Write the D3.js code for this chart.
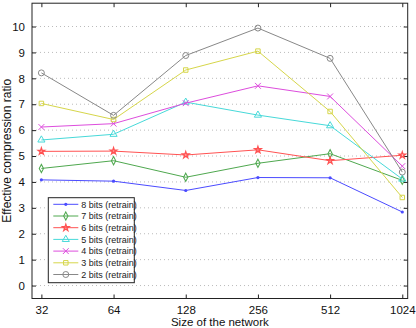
<!DOCTYPE html>
<html>
<head>
<meta charset="utf-8">
<script src="https://cdn.jsdelivr.net/npm/d3@7"></script>
<style>
  body { margin: 0; background: #fff; }
  svg { font-family: "Liberation Sans", Arial, sans-serif; }
</style>
</head>
<body>
<svg id="chart" width="416" height="328"></svg>
<script>
var sizes = [32, 64, 128, 256, 512, 1024];
var bits8 = [4.08, 4.03, 3.67, 4.17, 4.16, 2.84];
var bits7 = [4.52, 4.82, 4.18, 4.72, 5.09, 4.06];
var bits6 = [5.18, 5.19, 5.04, 5.24, 4.82, 5.03];
var bits5 = [5.62, 5.84, 7.08, 6.58, 6.17, 4.11];
var bits4 = [6.12, 6.25, 7.04, 7.71, 7.30, 4.61];
var bits3 = [7.03, 6.41, 8.32, 9.05, 6.72, 3.40];
var bits2 = [8.21, 6.57, 8.88, 9.94, 8.77, 4.38];
var names = ["8 bits (retrain)", "7 bits (retrain)", "6 bits (retrain)", "5 bits (retrain)",
             "4 bits (retrain)", "3 bits (retrain)", "2 bits (retrain)"];
var yTicks = [0, 1, 2, 3, 4, 5, 6, 7, 8, 9, 10];

var series = [
    {name: names[0], values: bits8, color: "#4b4bff", symbol: "dot"},
    {name: names[1], values: bits7, color: "#4fa84f", symbol: d3.symbolDiamond},
    {name: names[2], values: bits6, color: "#ff5252", symbol: d3.symbolStar},
    {name: names[3], values: bits5, color: "#47d9d9", symbol: d3.symbolTriangle},
    {name: names[4], values: bits4, color: "#dd4ddd", symbol: d3.symbolTimes},
    {name: names[5], values: bits3, color: "#d6d64a", symbol: d3.symbolSquare},
    {name: names[6], values: bits2, color: "#888888", symbol: d3.symbolCircle}
];

var plotL = 32, plotR = 407.7, plotT = 3.2, plotB = 298.5;

var x = d3.scaleLog().base(2)
    .domain([32 / Math.pow(2, 0.13), 1024 * Math.pow(2, 0.075)])
    .range([plotL, plotR]);
var y = d3.scaleLinear().domain([-0.5, 10.9]).range([plotB, plotT]);

var svg = d3.select("#chart");

// horizontal dotted grid
svg.append("g").selectAll("line")
    .data(yTicks)
    .enter().append("line")
    .attr("x1", plotL).attr("x2", plotR)
    .attr("y1", function(d) { return y(d); })
    .attr("y2", function(d) { return y(d); })
    .attr("stroke", "#bbb")
    .attr("stroke-width", 1)
    .attr("stroke-dasharray", "1,3");

// axes with inward ticks
var axB = svg.append("g").attr("transform", "translate(0," + plotB + ")")
    .call(d3.axisBottom(x).tickValues(sizes).tickFormat(d3.format("d")).tickSizeInner(-4).tickSizeOuter(0).tickPadding(7));
var axT = svg.append("g").attr("transform", "translate(0," + plotT + ")")
    .call(d3.axisTop(x).tickValues(sizes).tickFormat("").tickSizeInner(-4).tickSizeOuter(0));
var axL = svg.append("g").attr("transform", "translate(" + plotL + ",0)")
    .call(d3.axisLeft(y).tickValues(yTicks).tickSizeInner(-4).tickSizeOuter(0).tickPadding(7));
var axR = svg.append("g").attr("transform", "translate(" + plotR + ",0)")
    .call(d3.axisRight(y).tickValues(yTicks).tickFormat("").tickSizeInner(-4).tickSizeOuter(0));

[axB, axT, axL, axR].forEach(function(a) {
    a.select(".domain").remove();
    a.selectAll("line").attr("stroke", "#222");
    a.selectAll("text").attr("font-size", "11.5px").attr("fill", "#111")
        .attr("font-family", "Liberation Sans, Arial, sans-serif");
});

svg.append("rect")
    .attr("x", plotL).attr("y", plotT)
    .attr("width", plotR - plotL).attr("height", plotB - plotT)
    .attr("fill", "none").attr("stroke", "#222").attr("stroke-width", 1);

var line = d3.line()
    .x(function(d, i) { return x(sizes[i]); })
    .y(function(d) { return y(d); });

function drawMarker(g, s, cx, cy) {
    if (s.symbol === "dot") {
        g.append("circle").attr("cx", cx).attr("cy", cy).attr("r", 1.6).attr("fill", s.color);
        return;
    }
    var size = 30;
    if (s.symbol === d3.symbolStar) size = 13;
    if (s.symbol === d3.symbolTriangle) size = 22;
    if (s.symbol === d3.symbolSquare) size = 20;
    if (s.symbol === d3.symbolTimes) size = 24;
    if (s.symbol === d3.symbolCircle) size = 28;
    if (s.symbol === d3.symbolDiamond) size = 16;
    var tr = "translate(" + cx + "," + cy + ")";
    if (s.symbol === d3.symbolDiamond) tr += " scale(1,1.1)";
    g.append("path")
        .attr("d", d3.symbol().type(s.symbol).size(size)())
        .attr("transform", tr)
        .attr("fill", "none")
        .attr("stroke", s.color)
        .attr("stroke-width", s.symbol === d3.symbolStar ? 1.3 : 1);
}

series.forEach(function(s) {
    var g = svg.append("g");
    g.append("path")
        .datum(s.values)
        .attr("d", line)
        .attr("fill", "none")
        .attr("stroke", s.color)
        .attr("stroke-width", 1);
    s.values.forEach(function(v, i) {
        drawMarker(g, s, x(sizes[i]), y(v));
    });
});

// legend
var lg = svg.append("g");
var lx = 48.3, ly = 197.7, lw = 86, lh = 85;
lg.append("rect").attr("x", lx).attr("y", ly).attr("width", lw).attr("height", lh)
    .attr("fill", "#fff").attr("stroke", "#222").attr("stroke-width", 1);
series.forEach(function(s, i) {
    var yy = ly + 6.6 + i * 11.7;
    lg.append("line").attr("x1", lx + 5).attr("x2", lx + 30)
        .attr("y1", yy).attr("y2", yy)
        .attr("stroke", s.color).attr("stroke-width", 1);
    drawMarker(lg, s, lx + 17.5, yy);
    lg.append("text").attr("x", lx + 33).attr("y", yy + 3.2)
        .attr("font-size", "9px").attr("fill", "#222")
        .text(s.name);
});

svg.append("text")
    .attr("x", (plotL + plotR) / 2).attr("y", 325.5)
    .attr("text-anchor", "middle")
    .attr("font-size", "11.5px").attr("fill", "#111")
    .text("Size of the network");

svg.append("text")
    .attr("transform", "translate(10.5," + ((plotT + plotB) / 2) + ") rotate(-90)")
    .attr("text-anchor", "middle")
    .attr("font-size", "12px").attr("fill", "#111")
    .text("Effective compression ratio");
</script>
</body>
</html>
